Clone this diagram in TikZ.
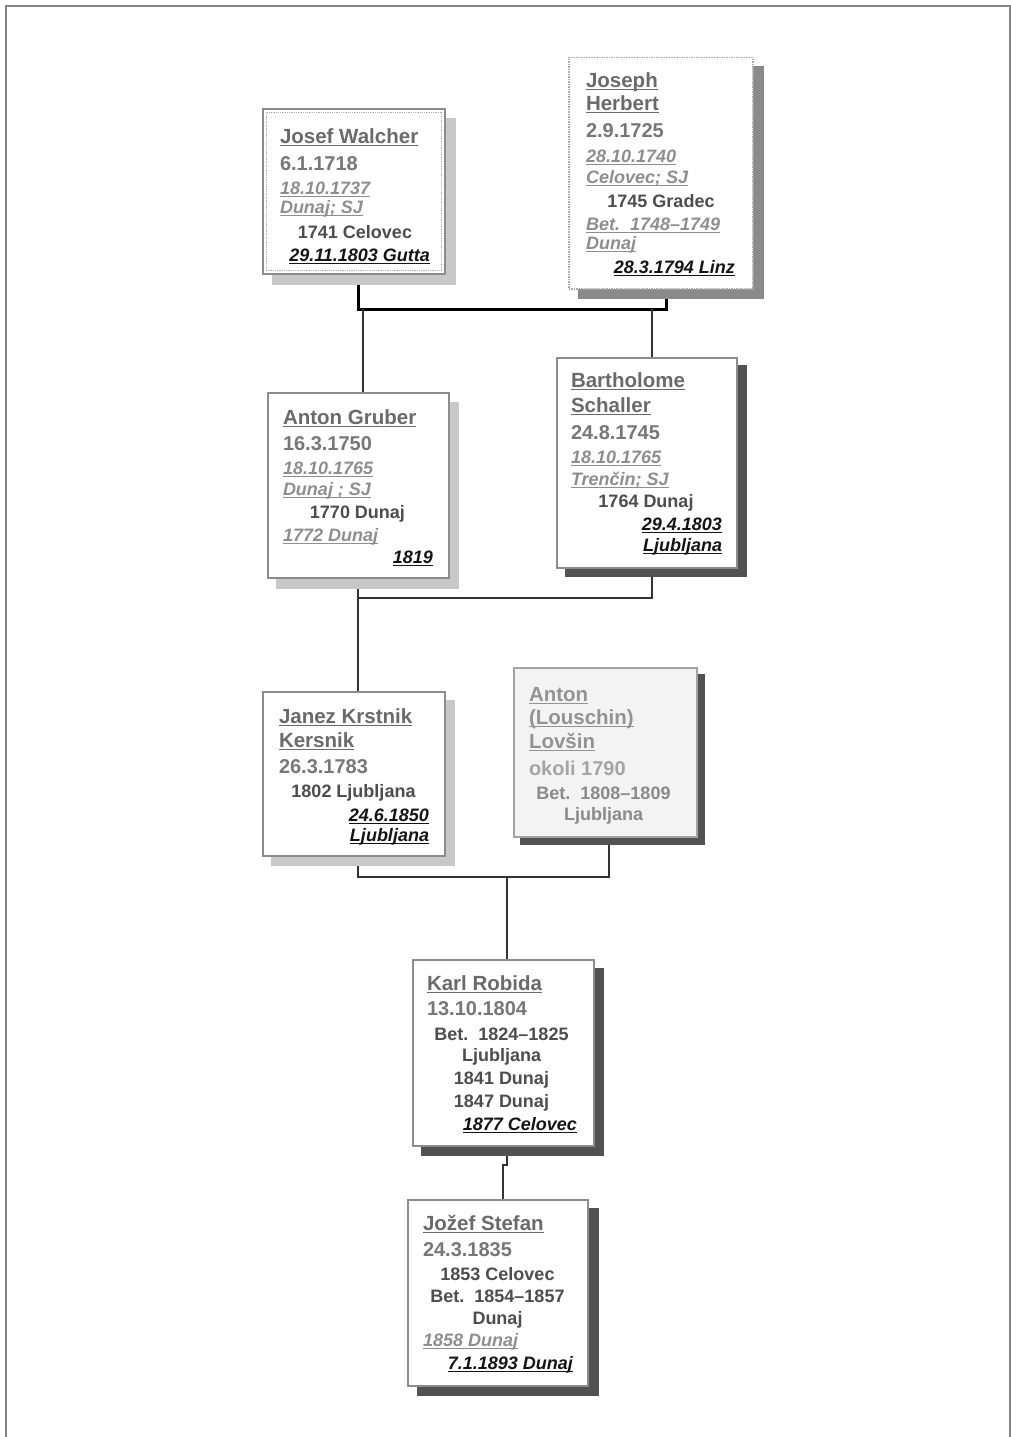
\documentclass[tikz,border=0pt]{standalone}
\usepackage{fontspec}
\setmainfont{Liberation Sans}
\usetikzlibrary{backgrounds,calc}

% colours
\definecolor{framegray}{HTML}{858585}
\definecolor{boxgray}{HTML}{8C8C8C}
\definecolor{namegray}{HTML}{6A6A6A}
\definecolor{birthgray}{HTML}{777777}
\definecolor{ordgray}{HTML}{8E8E8E}
\definecolor{placegray}{HTML}{4D4D4D}
\definecolor{deathblack}{HTML}{141414}
\definecolor{palename}{HTML}{939393}
\definecolor{palebirth}{HTML}{A4A4A4}
\definecolor{paleplace}{HTML}{8A8A8A}
\definecolor{palefill}{HTML}{F3F3F3}
\definecolor{shadowlight}{HTML}{C8C8C8}
\definecolor{shadowmid}{HTML}{8A8A8A}
\definecolor{shadowdark}{HTML}{525252}
\definecolor{linkgray}{HTML}{333333}

% underlined text with a heavier rule
\newsavebox\ulinebox
\newcommand\ul[1]{\sbox\ulinebox{#1}\rlap{\rule[-3.2pt]{\wd\ulinebox}{1.4pt}}\usebox\ulinebox}

\tikzset{
  box/.style={draw=boxgray, line width=1.5pt, fill=white, anchor=north west, inner sep=0},
  txt/.style={inner sep=0, outer sep=0},
  nm/.style={txt, anchor=base west, text=namegray, font=\fontsize{20.5}{24}\selectfont\bfseries},
  bd/.style={txt, anchor=base west, text=birthgray, font=\fontsize{20}{24}\selectfont\bfseries},
  od/.style={txt, anchor=base west, text=ordgray, font=\fontsize{18}{22}\selectfont\bfseries\itshape},
  pl/.style={txt, anchor=base, text=placegray, font=\fontsize{18}{22}\selectfont\bfseries},
  dt/.style={txt, anchor=base east, text=deathblack, font=\fontsize{18}{22}\selectfont\bfseries\itshape},
  pnm/.style={nm, text=palename},
  pbd/.style={bd, text=palebirth},
  ppl/.style={pl, text=paleplace},
  link/.style={draw=linkgray, line width=1.5pt},
  bond/.style={draw=black, line width=3pt},
}

\begin{document}
\begin{tikzpicture}[x=1pt, y=-1pt]
\useasboundingbox (0,0) rectangle (1011,1437);

% page frame (open at the bottom)
\draw[framegray, line width=2pt] (6,1437) -- (6,6.5) -- (1010,6.5) -- (1010,1437);

% ---------- boxes ----------
\node[box, minimum width=182, minimum height=165] (walcher) at (262,108) {};
\draw[boxgray!70, densely dotted, line width=0.8pt]
  ($(walcher.north west)+(4,4)$) rectangle ($(walcher.south east)+(-4,-4)$);
\node[box, draw=boxgray!75, densely dotted, minimum width=184, minimum height=231] (herbert) at (568,57) {};
\node[box, minimum width=181, minimum height=185] (gruber) at (267,392) {};
\node[box, minimum width=180, minimum height=210] (schaller) at (556,357) {};
\node[box, minimum width=182, minimum height=164] (kersnik) at (262,691) {};
\node[box, draw=boxgray!80, fill=palefill, minimum width=183, minimum height=169] (lovsin) at (513,667) {};
\node[box, minimum width=181, minimum height=186] (robida) at (412,959) {};
\node[box, minimum width=180, minimum height=186] (stefan) at (407,1199) {};

% ---------- shadows and connectors, behind the boxes ----------
\begin{pgfonlayer}{background}
  \coordinate (u1) at (358,309);
  \coordinate (u2) at (666,309);
  \coordinate (d1) at (363,309);
  \coordinate (d2) at (652,309);
  \coordinate (v1) at (358,598);
  \coordinate (v2) at (652,598);
  \coordinate (w1) at (358,877);
  \coordinate (w2) at (609,877);
  \coordinate (w3) at (507,877);
  \coordinate (r1) at (507,1165);
  \coordinate (r2) at (503,1165);

  \draw[bond] (u1 |- walcher.south) -- (u1) -- (u2) -- (u2 |- herbert.south);
  \draw[link] (d1) -- (d1 |- gruber.north);
  \draw[link] (d2) -- (d2 |- schaller.north);

  \draw[link] (v1 |- gruber.south) -- (v1) -- (v2) -- (v2 |- schaller.south);
  \draw[link] (v1) -- (v1 |- kersnik.north);

  \draw[link] (w1 |- kersnik.south) -- (w1) -- (w2) -- (w2 |- lovsin.south);
  \draw[link] (w3) -- (w3 |- robida.north);

  \draw[link] (r1 |- robida.south) -- (r1) -- (r2) -- (r2 |- stefan.north);

  \fill[shadowlight] ($(walcher.north west)+(10,10)$) rectangle ($(walcher.south east)+(10,10)$);
  \fill[shadowmid]   ($(herbert.north west)+(10,9)$) rectangle ($(herbert.south east)+(10,9)$);
  \fill[shadowlight] ($(gruber.north west)+(9,10)$) rectangle ($(gruber.south east)+(9,10)$);
  \fill[shadowdark]  ($(schaller.north west)+(9,8)$) rectangle ($(schaller.south east)+(9,8)$);
  \fill[shadowlight] ($(kersnik.north west)+(9,9)$) rectangle ($(kersnik.south east)+(9,9)$);
  \fill[shadowdark]  ($(lovsin.north west)+(7,7)$) rectangle ($(lovsin.south east)+(7,7)$);
  \fill[shadowdark]  ($(robida.north west)+(9,9)$) rectangle ($(robida.south east)+(9,9)$);
  \fill[shadowdark]  ($(stefan.north west)+(10,9)$) rectangle ($(stefan.south east)+(10,9)$);
\end{pgfonlayer}

% ---------- Josef Walcher ----------
\node[nm] (wa1) at (280,143) {\ul{Josef Walcher}};
\node[bd] (wa2) at (280,170) {6.1.1718};
\node[od] (wa3) at (280,194) {\ul{18.10.1737}};
\node[od] (wa4) at (280,213) {\ul{Dunaj; SJ}};
\node[pl] (wa5) at (355,238) {1741 Celovec};
\node[dt] (wa6) at (430,261) {\ul{29.11.1803 Gutta}};

% ---------- Joseph Herbert ----------
\node[nm] (he1) at (586,87) {\ul{Joseph}};
\node[nm] (he2) at (586,110) {\ul{Herbert}};
\node[bd] (he3) at (586,137) {2.9.1725};
\node[od] (he4) at (586,162) {\ul{28.10.1740}};
\node[od] (he5) at (586,183) {\ul{Celovec; SJ}};
\node[pl] (he6) at (661,207) {1745 Gradec};
\node[od] (he7) at (586,230) {\ul{Bet.\ \ 1748–1749}};
\node[od] (he8) at (586,249) {\ul{Dunaj}};
\node[dt] (he9) at (735,273) {\ul{28.3.1794 Linz}};

% ---------- Anton Gruber ----------
\node[nm] (gr1) at (283,424) {\ul{Anton Gruber}};
\node[bd] (gr2) at (283,450) {16.3.1750};
\node[od] (gr3) at (283,474) {\ul{18.10.1765}};
\node[od] (gr4) at (283,495) {\ul{Dunaj ; SJ}};
\node[pl] (gr5) at (357.5,518) {1770 Dunaj};
\node[od] (gr6) at (283,541) {\ul{1772 Dunaj}};
\node[dt] (gr7) at (433,563) {\ul{1819}};

% ---------- Bartholome Schaller ----------
\node[nm] (sc1) at (571,387) {\ul{Bartholome}};
\node[nm] (sc2) at (571,412) {\ul{Schaller}};
\node[bd] (sc3) at (571,439) {24.8.1745};
\node[od] (sc4) at (571,463) {\ul{18.10.1765}};
\node[od] (sc5) at (571,485) {\ul{Trenčin; SJ}};
\node[pl] (sc6) at (646,507) {1764 Dunaj};
\node[dt] (sc7) at (722,530) {\ul{29.4.1803}};
\node[dt] (sc8) at (722,551) {\ul{Ljubljana}};

% ---------- Janez Krstnik Kersnik ----------
\node[nm] (ke1) at (279,723) {\ul{Janez Krstnik}};
\node[nm] (ke2) at (279,747) {\ul{Kersnik}};
\node[bd] (ke3) at (279,773) {26.3.1783};
\node[pl] (ke4) at (353.5,797) {1802 Ljubljana};
\node[dt] (ke5) at (429,821) {\ul{24.6.1850}};
\node[dt] (ke6) at (429,841) {\ul{Ljubljana}};

% ---------- Anton (Louschin) Lovšin ----------
\node[pnm] (lo1) at (529,701) {\ul{Anton}};
\node[pnm] (lo2) at (529,724) {\ul{(Louschin)}};
\node[pnm] (lo3) at (529,748) {\ul{Lovšin}};
\node[pbd] (lo4) at (529,775) {okoli 1790};
\node[ppl] (lo5) at (603.5,799) {Bet.\ \ 1808–1809};
\node[ppl] (lo6) at (603.5,820) {Ljubljana};

% ---------- Karl Robida ----------
\node[nm] (ro1) at (427,990) {\ul{Karl Robida}};
\node[bd] (ro2) at (427,1015) {13.10.1804};
\node[pl] (ro3) at (501.5,1040) {Bet.\ \ 1824–1825};
\node[pl] (ro4) at (501.5,1061) {Ljubljana};
\node[pl] (ro5) at (501.5,1084) {1841 Dunaj};
\node[pl] (ro6) at (501.5,1107) {1847 Dunaj};
\node[dt] (ro7) at (577,1130) {\ul{1877 Celovec}};

% ---------- Jožef Stefan ----------
\node[nm] (st1) at (423,1230) {\ul{Jožef Stefan}};
\node[bd] (st2) at (423,1256) {24.3.1835};
\node[pl] (st3) at (497.5,1280) {1853 Celovec};
\node[pl] (st4) at (497.5,1302) {Bet.\ \ 1854–1857};
\node[pl] (st5) at (497.5,1324) {Dunaj};
\node[od] (st6) at (423,1346) {\ul{1858 Dunaj}};
\node[dt] (st7) at (573,1369) {\ul{7.1.1893 Dunaj}};
\end{tikzpicture}
\end{document}
